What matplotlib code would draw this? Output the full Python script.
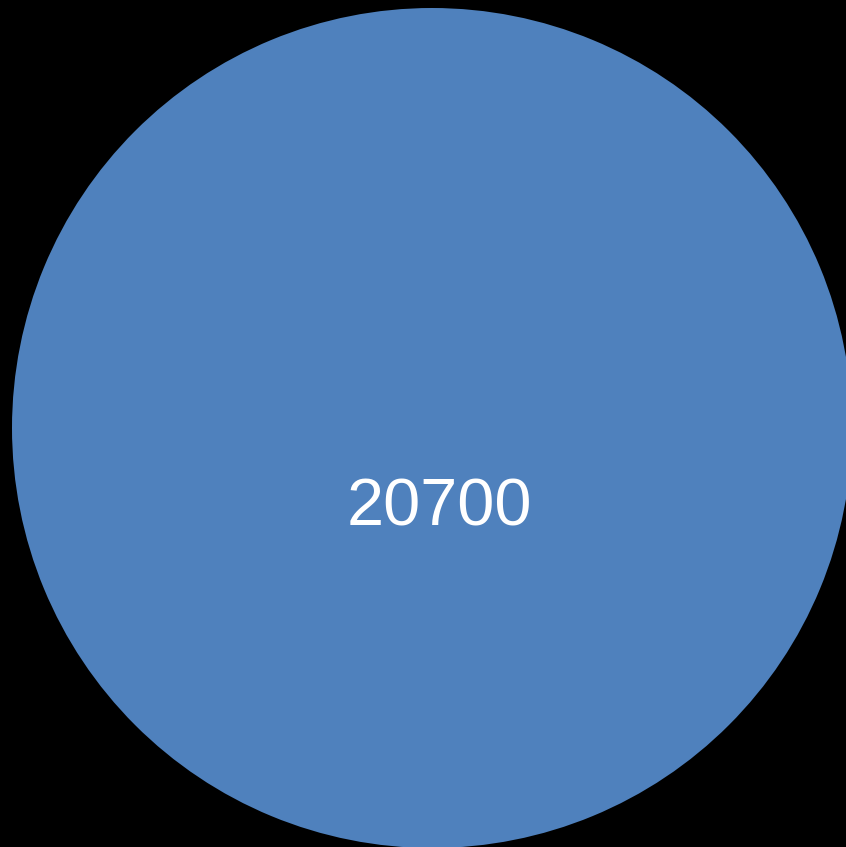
import matplotlib
matplotlib.use('Agg')
import matplotlib.pyplot as plt

# data
labels = ['Total']
values = [20700]
colors = ['#4F81BD']

fig = plt.figure(figsize=(8.46, 8.47), dpi=100, facecolor='black')
ax = fig.add_axes([0, 0, 1, 1])
ax.set_facecolor('black')

r = 420.0
ax.pie(values, colors=colors, radius=1, startangle=90, counterclock=False,
       wedgeprops={'linewidth': 0})

# axis limits so the circle sits where it is in the picture (pixels / radius)
ax.set_xlim(-432 / r, (846 - 432) / r)
ax.set_ylim(-(847 - 428) / r, 428 / r)
ax.set_aspect('equal', adjustable='datalim')
ax.axis('off')

for v in values:
    ax.text((439.5 - 432) / r, (428 - 525) / r, str(v), color='white',
            fontsize=48, family='Liberation Sans', ha='center', va='baseline')

fig.savefig('out.png', dpi=100, facecolor='black')
